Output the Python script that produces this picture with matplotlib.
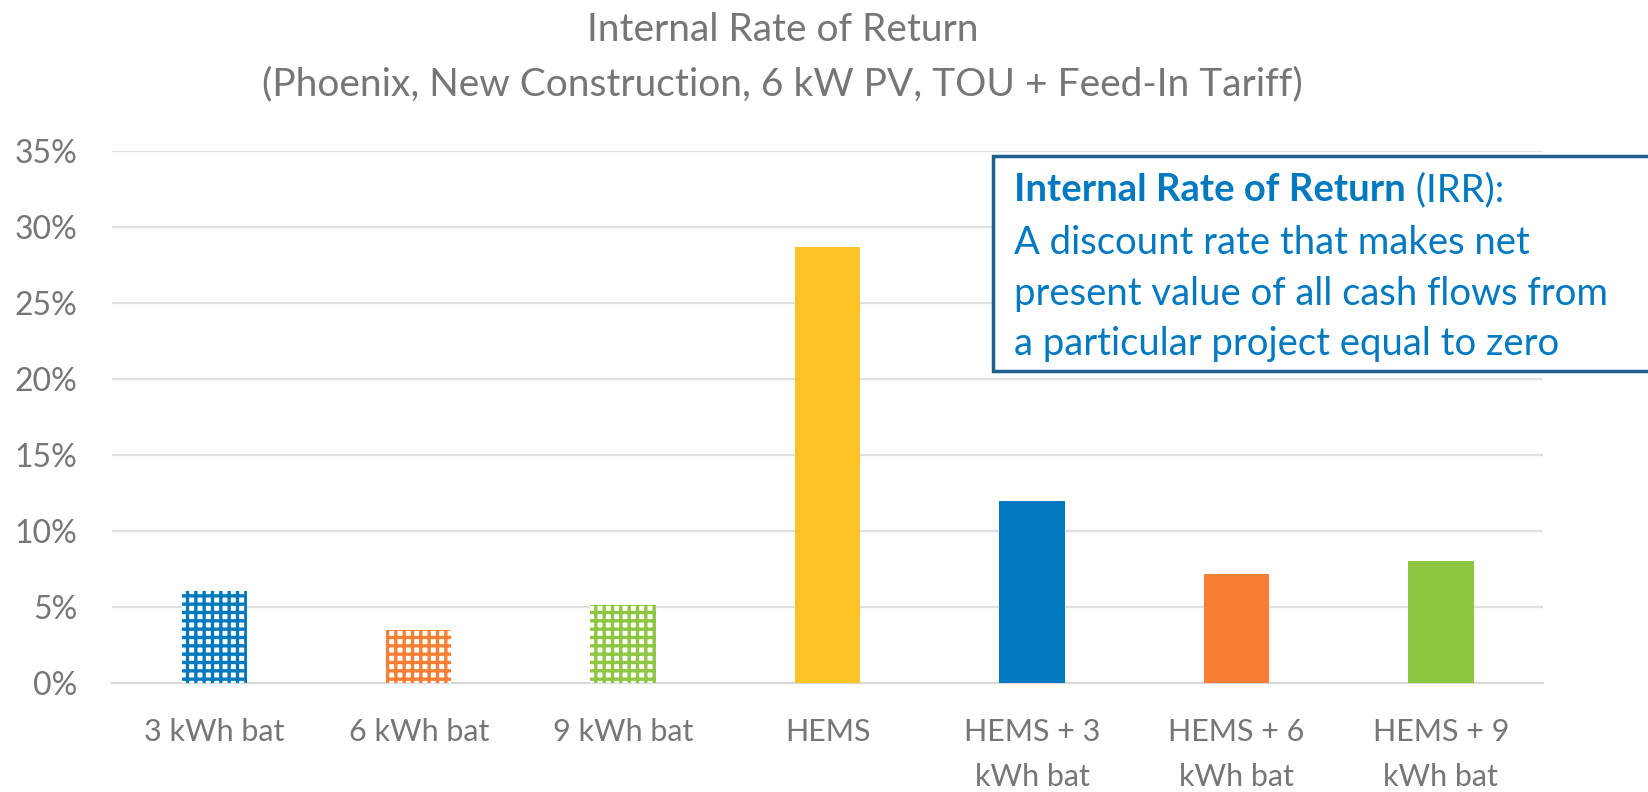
import matplotlib.pyplot as plt
from matplotlib.patches import Rectangle
from matplotlib.ticker import FuncFormatter

# Data
categories = ["3 kWh bat", "6 kWh bat", "9 kWh bat", "HEMS",
              "HEMS + 3\nkWh bat", "HEMS + 6\nkWh bat", "HEMS + 9\nkWh bat"]
irr = [0.0605, 0.035, 0.0515, 0.287, 0.120, 0.072, 0.080]
bar_colors = ["#0079C1", "#F77E33", "#8DC63F", "#FEC326",
              "#0079C1", "#F77E33", "#8DC63F"]
hatched = [True, True, True, False, False, False, False]
y_ticks = [0, 0.05, 0.10, 0.15, 0.20, 0.25, 0.30, 0.35]

grey = "#767676"
text_blue = "#0079C1"
plt.rcParams["font.family"] = ["Lato", "DejaVu Sans"]
plt.rcParams["hatch.linewidth"] = 2.4

fig = plt.figure(figsize=(16.48, 7.92), dpi=100)
ax = fig.add_axes([0.068, 0.1376, 0.8683, 0.6717])

x = range(len(categories))
for i, (v, c, h) in enumerate(zip(irr, bar_colors, hatched)):
    if h:
        ax.bar(i, v, width=0.32, facecolor="white", edgecolor=c,
               hatch="++", linewidth=0, zorder=3)
    else:
        ax.bar(i, v, width=0.32, color=c, linewidth=0, zorder=3)

ax.set_xlim(-0.5, len(categories) - 0.5)
ax.set_ylim(0, 0.35)
ax.set_yticks(y_ticks)
ax.yaxis.set_major_formatter(FuncFormatter(lambda v, p: f"{v * 100:.0f}%"))
ax.set_xticks(list(x))
ax.set_xticklabels(categories, linespacing=1.75, va="top")
ax.tick_params(axis="x", length=0, labelsize=22, colors=grey, pad=25)
ax.tick_params(axis="y", length=0, labelsize=23, colors=grey, pad=25)
ax.grid(axis="y", color="#E0E0E0", linewidth=1.6, zorder=0)
for s in ["top", "right", "left"]:
    ax.spines[s].set_visible(False)
ax.spines["bottom"].set_color("#D9D9D9")
ax.spines["bottom"].set_linewidth(1.6)

# Title
fig.text(0.475, 0.962, "Internal Rate of Return", ha="center", va="center",
         fontsize=28, color=grey)
fig.text(0.475, 0.893, "(Phoenix, New Construction, 6 kW PV, TOU + Feed-In Tariff)",
         ha="center", va="center", fontsize=28, color=grey)

# Definition box
fig.patches.append(Rectangle((993 / 1648, 1 - 371 / 792), 680 / 1648, 215 / 792,
                             transform=fig.transFigure, facecolor="white",
                             edgecolor="#1F5F8F", linewidth=2.5, zorder=5))
tx = 1014 / 1648
bold = fig.text(tx, 1 - 190 / 792, "Internal Rate of Return", ha="left", va="center",
                fontsize=27.5, color=text_blue, fontweight="bold", zorder=6)
fig.canvas.draw()
bb = bold.get_window_extent().transformed(fig.transFigure.inverted())
fig.text(bb.x1, 1 - 190 / 792, " (IRR):", ha="left", va="center",
         fontsize=27.5, color=text_blue, zorder=6)
box_lines = ["A discount rate that makes net",
             "present value of all cash flows from",
             "a particular project equal to zero"]
for k, line in enumerate(box_lines):
    fig.text(tx, 1 - (243 + 50.5 * k) / 792, line, ha="left", va="center",
             fontsize=27.5, color=text_blue, zorder=6)

fig.savefig("out.png", dpi=100)
